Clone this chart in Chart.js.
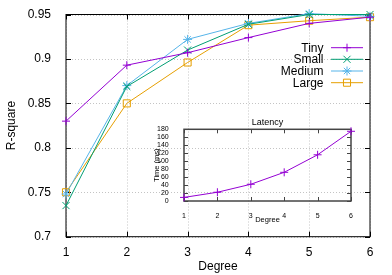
<!DOCTYPE html>
<html><head><meta charset="utf-8">
<script src="https://cdn.jsdelivr.net/npm/chart.js@4/dist/chart.umd.min.js"></script>
<style>
html,body{margin:0;padding:0;background:#fff;}
#wrap{position:relative;width:392px;height:275px;overflow:hidden;}
#main{position:absolute;left:0;top:0;}
#inset{position:absolute;left:140px;top:110px;}
</style></head><body>
<div id="wrap"><canvas id="main" width="392" height="275"></canvas><canvas id="inset" width="240" height="118"></canvas></div>
<script>
// ---- data ----
const degrees = [1, 2, 3, 4, 5, 6];
const tiny   = [0.830, 0.893, 0.907, 0.924, 0.940, 0.947];
const small  = [0.735, 0.869, 0.910, 0.939, 0.950, 0.950];
const medium = [0.748, 0.870, 0.922, 0.940, 0.951, 0.948];
const large  = [0.750, 0.850, 0.896, 0.938, 0.943, 0.947];
const latency = [9, 22, 42, 72, 116, 175];
const seriesNames = ['Tiny', 'Small', 'Medium', 'Large'];
const yTicks = [0.7, 0.75, 0.8, 0.85, 0.9, 0.95];
const xTicks = [1, 2, 3, 4, 5, 6];
const latTicks = [0, 20, 40, 60, 80, 100, 120, 140, 160, 180];

const FONT = 'Liberation Sans, Arial, sans-serif';
const colors = ['#9400d3', '#009e73', '#56b4e9', '#e69f00'];
const styles = ['cross', 'crossRot', 'star', 'rect'];
const radii = [4, 5, 4.5, 5];
const seriesData = [tiny, small, medium, large];

function pts(ys) { return degrees.map((d, i) => ({x: d, y: ys[i]})); }

const datasets = seriesData.map((s, i) => ({
  label: seriesNames[i],
  data: pts(s),
  borderColor: colors[i],
  backgroundColor: 'rgba(0,0,0,0)',
  borderWidth: 1,
  pointStyle: styles[i],
  pointRadius: radii[i],
  pointBorderColor: colors[i],
  pointBackgroundColor: 'rgba(0,0,0,0)',
  pointBorderWidth: 1,
  tension: 0,
  clip: false
}));

function frameGrid(opts) {
  return {
    id: 'frameGrid',
    beforeDatasetsDraw(chart) {
      const {ctx, chartArea: a, scales: {x, y}} = chart;
      ctx.save();
      if (opts.grid) {
        ctx.strokeStyle = '#c4c4c4';
        ctx.lineWidth = 1;
        ctx.setLineDash([1, 2]);
        x.ticks.forEach(t => {
          const px = Math.round(x.getPixelForValue(t.value)) + 0.5;
          ctx.beginPath(); ctx.moveTo(px, a.top); ctx.lineTo(px, a.bottom); ctx.stroke();
        });
        y.ticks.forEach(t => {
          const py = Math.round(y.getPixelForValue(t.value)) + 0.5;
          ctx.beginPath(); ctx.moveTo(a.left, py); ctx.lineTo(a.right, py); ctx.stroke();
        });
        ctx.setLineDash([]);
      }
      ctx.strokeStyle = opts.color;
      ctx.lineWidth = opts.width;
      ctx.strokeRect(a.left, a.top, a.right - a.left, a.bottom - a.top);
      ctx.lineWidth = 1;
      const L = opts.tick;
      x.ticks.forEach(t => {
        const px = Math.round(x.getPixelForValue(t.value)) + 0.5;
        ctx.beginPath();
        ctx.moveTo(px, a.bottom); ctx.lineTo(px, a.bottom - L);
        ctx.moveTo(px, a.top); ctx.lineTo(px, a.top + L);
        ctx.stroke();
      });
      y.ticks.forEach(t => {
        const py = Math.round(y.getPixelForValue(t.value)) + 0.5;
        ctx.beginPath();
        ctx.moveTo(a.left, py); ctx.lineTo(a.left + L, py);
        ctx.moveTo(a.right, py); ctx.lineTo(a.right - L, py);
        ctx.stroke();
      });
      if (opts.title) {
        ctx.fillStyle = '#000';
        ctx.font = opts.titleFont;
        ctx.textAlign = 'center';
        ctx.textBaseline = 'middle';
        ctx.fillText(opts.title, (a.left + a.right) / 2, opts.titleY);
      }
      ctx.restore();
    }
  };
}

const legendPlugin = {
  id: 'gpLegend',
  afterDatasetsDraw(chart) {
    const {ctx} = chart;
    const rows = [47.7, 59.3, 71, 82.7];
    ctx.save();
    chart.data.datasets.forEach((ds, i) => {
      const yy = rows[i];
      ctx.fillStyle = '#000';
      ctx.font = '12px ' + FONT;
      ctx.textAlign = 'right';
      ctx.textBaseline = 'middle';
      ctx.fillText(ds.label, 323.5, yy + 0.5);
      ctx.strokeStyle = ds.borderColor;
      ctx.lineWidth = 1;
      ctx.beginPath(); ctx.moveTo(331, yy); ctx.lineTo(363, yy); ctx.stroke();
      ctx.fillStyle = 'rgba(0,0,0,0)';
      Chart.helpers.drawPoint(ctx, {pointStyle: ds.pointStyle, radius: ds.pointRadius, borderWidth: 1, rotation: 0}, 347, yy);
    });
    ctx.restore();
  }
};

new Chart(document.getElementById('main'), {
  type: 'line',
  data: {datasets},
  options: {
    responsive: false, animation: false, devicePixelRatio: 1,
    layout: {padding: {left: 0, right: 22, top: 14.5, bottom: 0}},
    plugins: {legend: {display: false}, tooltip: {enabled: false}},
    scales: {
      x: {
        type: 'linear', min: 1, max: 6,
        afterBuildTicks: s => { s.ticks = xTicks.map(v => ({value: v})); },
        afterFit: s => { s.height = 38.3; },
        grid: {display: false}, border: {display: false},
        ticks: {padding: 1, autoSkip: false, maxRotation: 0, color: '#000', font: {family: FONT, size: 12}, callback: v => String(v)},
        title: {display: true, text: 'Degree', color: '#000', font: {family: FONT, size: 12}, padding: {top: 0, bottom: 1.3}}
      },
      y: {
        type: 'linear', min: 0.7, max: 0.95,
        afterBuildTicks: s => { s.ticks = yTicks.map(v => ({value: v})); },
        afterFit: s => { s.width = 66; },
        grid: {display: false}, border: {display: false},
        ticks: {padding: 7, autoSkip: false, color: '#000', font: {family: FONT, size: 12}, callback: v => String(v)},
        title: {display: true, text: 'R-square', color: '#000', font: {family: FONT, size: 12}, padding: {top: 4.5, bottom: 0}}
      }
    }
  },
  plugins: [frameGrid({grid: true, color: '#000', width: 1, tick: 5}), legendPlugin]
});

new Chart(document.getElementById('inset'), {
  type: 'line',
  data: {datasets: [{
    label: 'Latency',
    data: pts(latency),
    borderColor: '#9400d3', backgroundColor: 'rgba(0,0,0,0)', borderWidth: 1,
    pointStyle: 'cross', pointRadius: 4, pointBorderColor: '#9400d3', pointBorderWidth: 1,
    tension: 0, clip: false
  }]},
  options: {
    responsive: false, animation: false, devicePixelRatio: 1,
    layout: {padding: {left: 0, right: 29, top: 19.3, bottom: 0}},
    plugins: {legend: {display: false}, tooltip: {enabled: false}},
    scales: {
      x: {
        type: 'linear', min: 1, max: 6,
        afterBuildTicks: s => { s.ticks = xTicks.map(v => ({value: v})); },
        afterFit: s => { s.height = 27; },
        grid: {display: false}, border: {display: false},
        ticks: {padding: 2.5, autoSkip: false, maxRotation: 0, color: '#000', font: {family: FONT, size: 7}, callback: v => String(v)},
        title: {display: true, text: 'Degree', color: '#000', font: {family: FONT, size: 7.5}, padding: {top: 0, bottom: 4}}
      },
      y: {
        type: 'linear', min: 0, max: 180,
        afterBuildTicks: s => { s.ticks = latTicks.map(v => ({value: v})); },
        afterFit: s => { s.width = 44; },
        grid: {display: false}, border: {display: false},
        ticks: {padding: 7.3, autoSkip: false, color: '#000', font: {family: FONT, size: 7}, callback: v => String(v)},
        title: {display: true, text: 'Time (ms)', color: '#000', font: {family: FONT, size: 7.5}, padding: {top: 12, bottom: 0}}
      }
    }
  },
  plugins: [frameGrid({grid: false, color: '#444', width: 1.5, tick: 4, title: 'Latency', titleFont: '9px ' + FONT, titleY: 12.7})]
});
</script>
</body></html>
